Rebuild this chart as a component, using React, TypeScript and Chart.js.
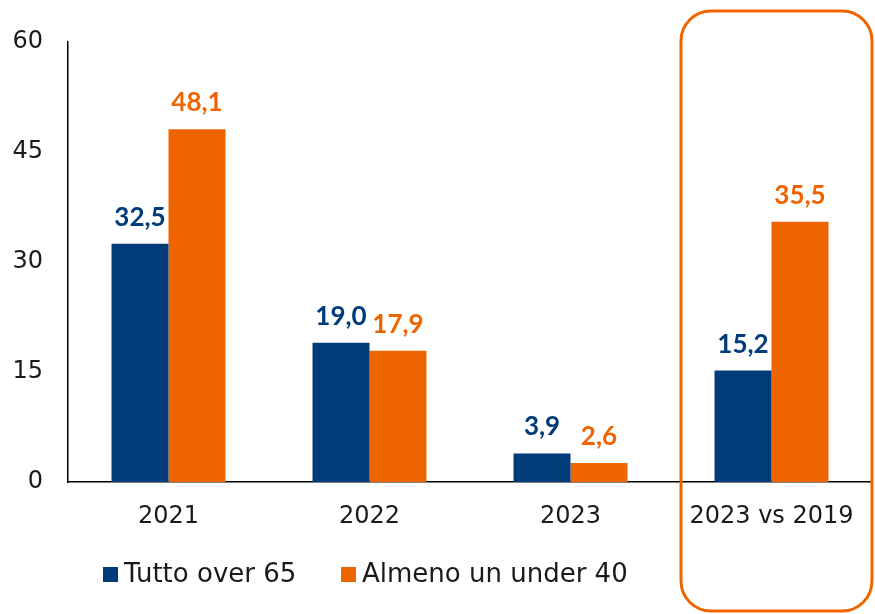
import React, { useEffect, useRef } from "react";
import { Chart, registerables } from "chart.js";

Chart.register(...registerables);

const categories = ["2021", "2022", "2023", "2023 vs 2019"];
const seriesNames = ["Tutto over 65", "Almeno un under 40"];
const over65 = [32.5, 19.0, 3.9, 15.2];
const under40 = [48.1, 17.9, 2.6, 35.5];
const yTicks = [0, 15, 30, 45, 60];

const BLUE = "#003B7A";
const ORANGE = "#EE6500";
const TEXT = "#1a1a1a";
const REG_FONT = "'DejaVu Sans', sans-serif";
const BOLD_FONT = "Lato, 'DejaVu Sans', sans-serif";

const labelsPlugin = {
  id: "valueLabels",
  afterDatasetsDraw(chart: any) {
    const ctx = chart.ctx;
    ctx.save();
    ctx.font = `bold 26px ${BOLD_FONT}`;
    ctx.textAlign = "center";
    ctx.textBaseline = "alphabetic";
    chart.data.datasets.forEach((ds: any, di: number) => {
      const meta = chart.getDatasetMeta(di);
      ctx.fillStyle = ds.backgroundColor;
      meta.data.forEach((bar: any, i: number) => {
        const v = ds.data[i] as number;
        ctx.fillText(v.toFixed(1).replace(".", ","), bar.x, bar.y - 18);
      });
    });
    ctx.restore();
  },
};

const framePlugin = {
  id: "highlightFrame",
  afterDraw(chart: any) {
    const ctx = chart.ctx;
    const xs = chart.scales.x;
    const idx = categories.length - 1;
    const center = xs.getPixelForValue(idx);
    const half = (xs.getPixelForValue(1) - xs.getPixelForValue(0)) / 2;
    const left = center - half + 10;
    const right = center + half;
    ctx.save();
    ctx.strokeStyle = ORANGE;
    ctx.lineWidth = 3;
    ctx.beginPath();
    (ctx as any).roundRect(left, 11, right - left, 600, 30);
    ctx.stroke();
    ctx.restore();
  },
};

const legendPlugin = {
  id: "customLegend",
  afterDraw(chart: any) {
    const ctx = chart.ctx;
    const items = [
      { x: 103, color: BLUE, text: seriesNames[0] },
      { x: 341, color: ORANGE, text: seriesNames[1] },
    ];
    ctx.save();
    ctx.font = `26px ${REG_FONT}`;
    ctx.textBaseline = "middle";
    ctx.textAlign = "left";
    items.forEach((it) => {
      ctx.fillStyle = it.color;
      ctx.fillRect(it.x, 567, 15, 15);
      ctx.fillStyle = TEXT;
      ctx.fillText(it.text, it.x + 21, 575);
    });
    ctx.restore();
  },
};

export default function App() {
  const ref = useRef<HTMLCanvasElement>(null);
  useEffect(() => {
    if (!ref.current) return;
    const chart = new Chart(ref.current, {
      type: "bar",
      data: {
        labels: categories,
        datasets: [
          { label: seriesNames[0], data: over65, backgroundColor: BLUE, categoryPercentage: 0.567, barPercentage: 1.0 },
          { label: seriesNames[1], data: under40, backgroundColor: ORANGE, categoryPercentage: 0.567, barPercentage: 1.0 },
        ],
      },
      options: {
        responsive: false,
        animation: false,
        layout: { padding: { top: 42, right: 3, left: 0, bottom: 0 } },
        plugins: { legend: { display: false }, tooltip: { enabled: false } },
        scales: {
          x: {
            grid: { display: false, drawTicks: false },
            border: { display: true, color: "#000", width: 1.5 },
            ticks: { color: TEXT, font: { family: REG_FONT, size: 24 }, padding: 20 },
            afterFit: (s: any) => { s.height = 132; },
          },
          y: {
            min: 0,
            max: 60,
            grid: { display: false, drawTicks: false },
            border: { display: true, color: "#000", width: 1.5 },
            afterBuildTicks: (s: any) => { s.ticks = yTicks.map((v) => ({ value: v })); },
            ticks: { color: TEXT, font: { family: REG_FONT, size: 24 }, padding: 25 },
            afterFit: (s: any) => { s.width = 68; },
          },
        },
      },
      plugins: [labelsPlugin, framePlugin, legendPlugin],
    });
    return () => chart.destroy();
  }, []);
  return (
    <div style={{ position: "absolute", left: 0, top: 0, width: 875, height: 614, background: "#fff" }}>
      <canvas ref={ref} width={875} height={614} />
    </div>
  );
}
